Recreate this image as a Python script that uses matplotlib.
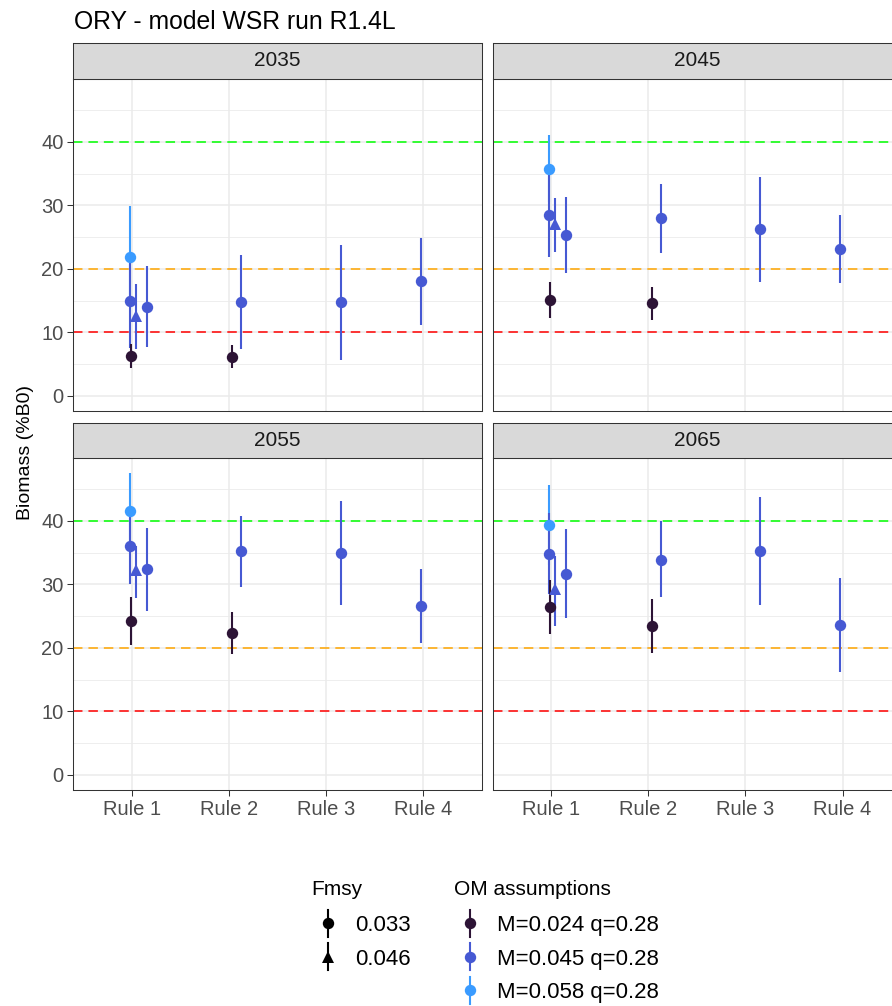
import matplotlib
matplotlib.use("Agg")
import matplotlib.pyplot as plt

plt.rcParams['font.family'] = ['Liberation Sans', 'DejaVu Sans']

# ---------------------------------------------------------------- data
years = [2035, 2045, 2055, 2065]
rule_labels = ["Rule 1", "Rule 2", "Rule 3", "Rule 4"]
om_labels = ["M=0.024 q=0.28", "M=0.045 q=0.28", "M=0.058 q=0.28"]
fmsy_labels = ["0.033", "0.046"]
ref_levels = [10, 20, 40]          # limit, soft limit, target (%B0)

# M=0.024, Fmsy=0.033
low_rules = [1, 2]
low_med = {2035: [6.3, 6.1], 2045: [15.1, 14.6], 2055: [24.3, 22.4], 2065: [26.5, 23.5]}
low_lo = {2035: [4.3, 4.3], 2045: [12.3, 11.9], 2055: [20.5, 19.0], 2065: [22.1, 19.2]}
low_hi = {2035: [8.2, 8.0], 2045: [18.0, 17.2], 2055: [28.0, 25.7], 2065: [30.7, 27.7]}

# M=0.045, Fmsy=0.033
mid_rules = [1]
mid_med = {2035: [15.0], 2045: [28.5], 2055: [36.1], 2065: [34.8]}
mid_lo = {2035: [7.6], 2045: [21.9], 2055: [30.0], 2065: [28.5]}
mid_hi = {2035: [21.0], 2045: [35.0], 2055: [41.0], 2065: [41.2]}

# M=0.045, Fmsy=0.046
tri_rules = [1]
tri_med = {2035: [12.6], 2045: [27.0], 2055: [32.2], 2065: [29.2]}
tri_lo = {2035: [7.3], 2045: [22.6], 2055: [27.8], 2065: [23.5]}
tri_hi = {2035: [17.6], 2045: [31.2], 2055: [36.1], 2065: [34.4]}

# M=0.045, Fmsy=0.033, all rules
alt_rules = [1, 2, 3, 4]
alt_med = {2035: [14.0, 14.8, 14.8, 18.1], 2045: [25.4, 28.0, 26.3, 23.1],
           2055: [32.4, 35.2, 34.9, 26.6], 2065: [31.7, 33.9, 35.3, 23.6]}
alt_lo = {2035: [7.7, 7.3, 5.7, 11.2], 2045: [19.4, 22.5, 18.0, 17.8],
          2055: [25.8, 29.5, 26.7, 20.8], 2065: [24.7, 28.0, 26.8, 16.2]}
alt_hi = {2035: [20.4, 22.1, 23.8, 24.8], 2045: [31.3, 33.4, 34.5, 28.5],
          2055: [38.9, 40.8, 43.2, 32.4], 2065: [38.7, 39.9, 43.8, 31.0]}

# M=0.058, Fmsy=0.033
high_rules = [1]
high_med = {2035: [21.9], 2045: [35.8], 2055: [41.6], 2065: [39.4]}
high_lo = {2035: [14.0], 2045: [30.5], 2055: [36.5], 2065: [33.0]}
high_hi = {2035: [29.9], 2045: [41.0], 2055: [47.5], 2065: [45.6]}

# ---------------------------------------------------------------- styling
om_colors = ["#2D1436", "#4659D3", "#3A9BFF"]
fmsy_markers = ["o", "^"]
ref_colors = ["#FF0000", "#FFA500", "#00FF00"]
POINT_MS = 8.2
TRI_MS = 9.2

# draw order: light blue first, dark last
series = [
    dict(om=2, fmsy=0, rules=high_rules, med=high_med, lo=high_lo, hi=high_hi, dodge=[-0.02]),
    dict(om=1, fmsy=0, rules=mid_rules, med=mid_med, lo=mid_lo, hi=mid_hi, dodge=[-0.02]),
    dict(om=1, fmsy=1, rules=tri_rules, med=tri_med, lo=tri_lo, hi=tri_hi, dodge=[0.045]),
    dict(om=1, fmsy=0, rules=alt_rules, med=alt_med, lo=alt_lo, hi=alt_hi,
         dodge=[0.155, 0.13, 0.15, -0.025]),
    dict(om=0, fmsy=0, rules=low_rules, med=low_med, lo=low_lo, hi=low_hi, dodge=[-0.01, 0.035]),
]

W, H = 892, 1006
fig = plt.figure(figsize=(W / 100, H / 100), dpi=100)
fig.patch.set_facecolor("white")


def rect(x0, y0, x1, y1):
    return [x0 / W, (H - y1) / H, (x1 - x0) / W, (y1 - y0) / H]


col_x = [(73.3, 481.5), (492.7, 900.9)]
row_y = [(79, 411), (458, 790)]
strip_y = [(43, 79), (423, 458)]

GRID = "#EBEBEB"
DARK = "#333333"
TXT = "#4D4D4D"

for i, yr in enumerate(years):
    r, c = divmod(i, 2)
    x0, x1 = col_x[c]
    y0, y1 = row_y[r]
    ax = fig.add_axes(rect(x0, y0, x1, y1))
    ax.set_xlim(0.4, 4.6)
    ax.set_ylim(-2.4, 49.9)
    ax.set_facecolor("white")

    ax.set_yticks([0, 10, 20, 30, 40])
    ax.set_yticks([5, 15, 25, 35, 45], minor=True)
    ax.set_xticks([1, 2, 3, 4])
    ax.grid(which="major", color=GRID, lw=1.1, zorder=0)
    ax.grid(which="minor", axis="y", color=GRID, lw=0.6, zorder=0)
    ax.set_axisbelow(True)

    ax.tick_params(which="major", length=4, width=0.75, color=DARK,
                   labelsize=14.5, labelcolor=TXT, pad=3)
    ax.tick_params(which="minor", length=0)
    if c == 0:
        ax.set_yticklabels([str(v) for v in [0, 10, 20, 30, 40]])
    else:
        ax.tick_params(axis="y", labelleft=False, length=0)
    if r == 1:
        ax.set_xticklabels(rule_labels)
    else:
        ax.tick_params(axis="x", labelbottom=False, length=0)

    for s in ax.spines.values():
        s.set_color(DARK)
        s.set_linewidth(0.75)

    for lvl, col in zip(ref_levels, ref_colors):
        ax.axhline(lvl, color=col, lw=1.1, ls=(0, (6.2, 3.9)), zorder=1)

    for k, s in enumerate(series):
        xs = [rr + d for rr, d in zip(s["rules"], s["dodge"])]
        ax.vlines(xs, s["lo"][yr], s["hi"][yr], color=om_colors[s["om"]],
                  lw=1.5, zorder=2 + 0.01 * k)
    for k, s in enumerate(series):
        xs = [rr + d for rr, d in zip(s["rules"], s["dodge"])]
        mk = fmsy_markers[s["fmsy"]]
        ax.plot(xs, s["med"][yr], ls="none", marker=mk,
                ms=TRI_MS if mk == "^" else POINT_MS, color=om_colors[s["om"]],
                markeredgewidth=0, zorder=3 + 0.01 * k)

    sy0, sy1 = strip_y[r]
    sax = fig.add_axes(rect(x0, sy0, x1, sy1))
    sax.set_facecolor("#D9D9D9")
    sax.set_xticks([])
    sax.set_yticks([])
    for sp in sax.spines.values():
        sp.set_color(DARK)
        sp.set_linewidth(0.75)
    sax.text(0.5, 0.5, str(yr), transform=sax.transAxes, ha="center",
             va="center", fontsize=15, color="#1A1A1A")

# ---------------------------------------------------------------- annotations and legend
ov = fig.add_axes([0, 0, 1, 1])
ov.set_xlim(0, W)
ov.set_ylim(H, 0)
ov.set_axis_off()
ov.patch.set_alpha(0)

ov.text(74, 28.5, "ORY - model WSR run R1.4L", fontsize=17.8, color="black",
        ha="left", va="baseline")
ov.text(25, 452, "Biomass (%B0)", fontsize=14, color="black", rotation=90,
        ha="center", va="center")

ov.text(311.5, 895, "Fmsy", fontsize=15, ha="left", va="baseline")
ov.text(454, 895, "OM assumptions", fontsize=15, ha="left", va="baseline")

key_rows = [923.3, 956.7, 990]
for j, lab in enumerate(fmsy_labels):
    yk = key_rows[j]
    ov.plot([328.3, 328.3], [yk - 13.5, yk + 13.5], color="black", lw=1.5)
    mk = fmsy_markers[j]
    ov.plot([328.3], [yk], ls="none", marker=mk, ms=TRI_MS if mk == "^" else POINT_MS,
            color="black", markeredgewidth=0)
    ov.text(355, yk + 8, lab, fontsize=16, ha="left", va="baseline")

for j, lab in enumerate(om_labels):
    yk = key_rows[j]
    ov.plot([470, 470], [yk - 13.5, yk + 13.5], color=om_colors[j], lw=1.5)
    ov.plot([470], [yk], ls="none", marker="o", ms=POINT_MS, color=om_colors[j],
            markeredgewidth=0)
    ov.text(497.3, yk + 8, lab, fontsize=16, ha="left", va="baseline")

fig.savefig("out.png", dpi=100)
